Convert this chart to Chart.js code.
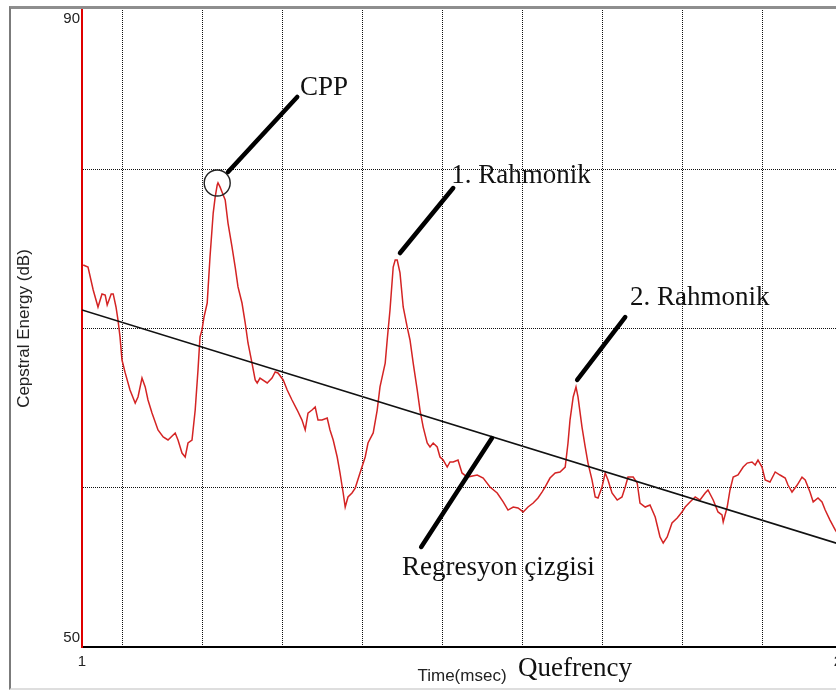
<!DOCTYPE html>
<html>
<head>
<meta charset="utf-8">
<title>Cepstrum</title>
<script src="https://cdn.jsdelivr.net/npm/chart.js@4.4.1/dist/chart.umd.min.js"></script>
<style>
    html, body { margin: 0; padding: 0; background: #fff; overflow: hidden; }
    body { width: 836px; height: 691px; position: relative; }
    .frame {
        position: absolute; left: 9px; top: 6px; width: 900px; height: 679px;
        border-left: 2px solid #7b7b7b; border-top: 3px solid #8e8e8e; border-bottom: 2px solid #dedede;
    }
    .chart-box { position: absolute; left: 0; top: -10px; width: 860px; height: 701px; }
</style>
</head>
<body>
<div class="frame"></div>
<div class="chart-box"><canvas id="chart"></canvas></div>
<script>
// quefrency (msec) of each sample of the cepstrum
const quefrency = [
    1.03, 1.15, 1.28, 1.4, 1.5, 1.58, 1.63, 1.73, 1.78, 1.85, 1.9, 1.95, 2.0, 2.08, 2.2, 2.33, 2.4, 2.5, 2.58, 2.65,
    2.75, 2.9, 3.03, 3.15, 3.33, 3.4, 3.5, 3.58, 3.65, 3.75, 3.83, 3.9, 3.95, 4.0, 4.05, 4.13, 4.2, 4.28, 4.33, 4.38,
    4.4, 4.45, 4.5, 4.58, 4.65, 4.75, 4.83, 4.9, 5.0, 5.08, 5.15, 5.25, 5.33, 5.38, 5.45, 5.63, 5.75, 5.83, 5.9,
    6.03, 6.13, 6.25, 6.38, 6.5, 6.58, 6.65, 6.75, 6.83, 6.9, 7.0, 7.13, 7.2, 7.28, 7.38, 7.45, 7.53, 7.58, 7.65, 7.75,
    7.83, 7.95, 8.08, 8.15, 8.28, 8.38, 8.45, 8.58, 8.63, 8.7, 8.78, 8.83, 8.88, 8.95, 9.03, 9.13, 9.2, 9.28, 9.38, 9.45,
    9.53, 9.63, 9.7, 9.78, 9.88, 9.95, 10.03, 10.13, 10.2, 10.28, 10.4, 10.5, 10.63,
    10.88, 11.03, 11.2, 11.38, 11.53, 11.65, 11.78, 11.9, 12.03, 12.15, 12.28, 12.4, 12.5, 12.58, 12.7, 12.83, 12.95, 13.08, 13.15, 13.2,
    13.28, 13.35, 13.4, 13.5, 13.58, 13.65, 13.75, 13.83, 13.9, 14.0, 14.08, 14.15, 14.25, 14.38, 14.5, 14.58, 14.65, 14.78, 14.88, 14.95,
    15.08, 15.2,
    15.33, 15.45, 15.53, 15.63, 15.75, 15.88, 16.0, 16.08, 16.2, 16.33, 16.45, 16.58, 16.65, 16.78, 16.9, 17.0, 17.03, 17.13, 17.2, 17.28,
    17.4, 17.53, 17.63, 17.75, 17.83, 17.9, 18.0, 18.08, 18.2, 18.33, 18.45, 18.58, 18.65, 18.75, 18.88, 19.0, 19.08, 19.2, 19.28, 19.4,
    19.5, 19.58, 19.7, 19.83, 20.0
];

// cepstral energy (dB)
const energy = [
    73.99, 73.86, 72.42, 71.35, 72.17, 72.10, 71.48, 72.17, 72.17, 71.35, 70.53, 69.47, 68.02, 67.21, 66.14, 65.32, 65.70, 66.89, 66.33, 65.51,
    64.69, 63.63, 63.19, 63.00, 63.44, 63.00, 62.18, 61.93, 62.81, 63.00, 64.88, 67.39, 69.47, 69.91, 70.72, 71.60, 74.49, 77.25, 78.26, 79.01,
    79.14, 78.89, 78.57, 78.07, 76.62, 75.12, 73.86, 72.61, 71.60, 70.35, 69.09, 67.83, 66.77, 66.58, 66.89, 66.58, 66.89, 67.27, 67.21,
    66.77, 66.14, 65.51, 64.88, 64.25, 63.63, 64.69, 64.88, 65.07, 64.25, 64.25, 64.38, 63.63, 63.00, 61.93, 60.93, 59.67, 58.79, 59.42, 59.67,
    59.98, 60.93, 61.93, 62.81, 63.44, 64.88, 66.33, 67.83, 69.28, 71.16, 73.86, 74.30, 74.30, 73.49, 71.35, 70.09, 69.28, 67.83, 66.14, 64.88,
    63.81, 62.81, 62.56, 62.81, 62.56, 61.93, 61.74, 61.30, 61.62, 61.62, 61.74, 60.93, 60.67,
    60.80, 60.61, 60.05, 59.67, 59.11, 58.60, 58.79, 58.73, 58.48, 58.79, 59.04, 59.36, 59.73, 60.05, 60.61, 60.93, 60.99, 61.30, 62.81, 64.25,
    65.70, 66.33, 65.70, 63.81, 62.56, 61.55, 60.49, 59.42, 59.36, 60.05, 60.93, 60.49, 59.67, 59.23, 59.42, 60.05, 60.67, 60.67, 60.30, 59.04,
    58.79, 58.92,
    58.16, 56.91, 56.53, 56.91, 57.79, 58.10, 58.48, 58.79, 59.11, 59.42, 59.23, 59.67, 59.86, 59.23, 58.48, 58.29, 57.85, 58.79, 59.86, 60.67,
    60.80, 61.30, 61.55, 61.62, 61.43, 61.74, 61.30, 60.49, 60.36, 60.99, 60.80, 60.61, 60.17, 59.73, 60.17, 60.67, 60.49, 59.73, 59.11, 59.36,
    59.11, 58.60, 57.97, 57.35, 56.72
];

// regression line end points
const regressionX = [1, 20];
const regressionY = [71.16, 56.41];

// grid / tick positions
const xTickValues = [1, 2, 4, 6, 8, 10, 12, 14, 16, 18, 20];
const xTickLabels = [1, 20];
const yTickValues = [50, 60, 70, 80, 90];

// callouts, in data units
const cppCircle = { x: 4.38, y: 79.14 };
const callouts = [
    { text: 'CPP', from: [4.65, 79.83], to: [6.38, 84.54], at: [6.45, 84.66] },
    { text: '1. Rahmonik', from: [8.95, 74.74], to: [10.28, 78.82], at: [10.23, 79.14] },
    { text: '2. Rahmonik', from: [13.38, 66.77], to: [14.58, 70.72], at: [14.7, 71.48] },
    { text: 'Regresyon çizgisi', from: [11.25, 63.12], to: [9.48, 56.28], at: [9.0, 54.52] }
];

const serifFont = '27px "Liberation Serif", "Times New Roman", serif';

const calloutPlugin = {
    id: 'callouts',
    afterDatasetsDraw(chart) {
        const { ctx, chartArea } = chart;
        const x = chart.scales.x;
        const y = chart.scales.y;
        ctx.save();

        ctx.strokeStyle = '#222';
        ctx.lineWidth = 1.4;
        ctx.beginPath();
        ctx.arc(x.getPixelForValue(cppCircle.x), y.getPixelForValue(cppCircle.y), 13, 0, Math.PI * 2);
        ctx.stroke();

        ctx.strokeStyle = '#000';
        ctx.lineWidth = 4.5;
        ctx.lineCap = 'round';
        callouts.forEach(c => {
            ctx.beginPath();
            ctx.moveTo(x.getPixelForValue(c.from[0]), y.getPixelForValue(c.from[1]));
            ctx.lineTo(x.getPixelForValue(c.to[0]), y.getPixelForValue(c.to[1]));
            ctx.stroke();
        });

        ctx.font = serifFont;
        ctx.fillStyle = '#111';
        ctx.textAlign = 'left';
        ctx.textBaseline = 'alphabetic';
        callouts.forEach(c => {
            ctx.fillText(c.text, x.getPixelForValue(c.at[0]), y.getPixelForValue(c.at[1]));
        });
        ctx.fillText('Quefrency', x.getPixelForValue(11.9), chartArea.bottom + 29);
        ctx.restore();
    }
};

const axisFont = { family: '"Liberation Sans", Arial, sans-serif', size: 15, lineHeight: 1.2 };
const titleFont = { family: '"Liberation Sans", Arial, sans-serif', size: 17, lineHeight: 1.2 };

new Chart(document.getElementById('chart'), {
    type: 'line',
    data: {
        datasets: [
            {
                data: regressionX.map((v, i) => ({ x: v, y: regressionY[i] })),
                borderColor: '#111',
                borderWidth: 1.6,
                pointRadius: 0,
                tension: 0,
                order: 0
            },
            {
                data: quefrency.map((v, i) => ({ x: v, y: energy[i] })),
                borderColor: '#d42424',
                borderWidth: 1.5,
                pointRadius: 0,
                tension: 0,
                order: 1
            }
        ]
    },
    options: {
        responsive: true,
        maintainAspectRatio: false,
        animation: false,
        events: [],
        layout: { padding: { left: 10, right: 18, top: 0, bottom: 0 } },
        plugins: { legend: { display: false }, tooltip: { enabled: false } },
        scales: {
            x: {
                type: 'linear',
                min: 1,
                max: 20,
                afterBuildTicks: scale => { scale.ticks = xTickValues.map(value => ({ value })); },
                afterFit: scale => { scale.height = 44; },
                ticks: {
                    autoSkip: false,
                    maxRotation: 0,
                    padding: 6,
                    color: '#222',
                    font: axisFont,
                    callback: value => xTickLabels.includes(value) ? String(value) : ''
                },
                grid: {
                    drawTicks: false,
                    lineWidth: 1,
                    color: ctx => (ctx.tick && ctx.tick.value === 1) ? 'rgba(0,0,0,0)' : '#111'
                },
                border: { color: '#000', width: 2, dash: [1, 1] },
                title: {
                    display: true,
                    text: 'Time(msec)',
                    color: '#222',
                    font: titleFont,
                    padding: { top: 0, bottom: 4 }
                }
            },
            y: {
                min: 50,
                max: 90,
                afterBuildTicks: scale => { scale.ticks = yTickValues.map(value => ({ value })); },
                afterFit: scale => { scale.width = 72; },
                ticks: {
                    autoSkip: false,
                    padding: 2,
                    color: '#222',
                    font: axisFont,
                    callback: value => value === 90 ? ['', '90'] : value === 50 ? ['50', ''] : ''
                },
                grid: {
                    drawTicks: false,
                    lineWidth: 1,
                    color: ctx => (ctx.tick && (ctx.tick.value === 90 || ctx.tick.value === 50)) ? 'rgba(0,0,0,0)' : '#111'
                },
                border: { color: '#e00000', width: 2, dash: [1, 1] },
                title: {
                    display: true,
                    text: 'Cepstral Energy (dB)',
                    color: '#222',
                    font: titleFont,
                    padding: { top: 4, bottom: 0 }
                }
            }
        }
    },
    plugins: [calloutPlugin]
});
</script>
</body>
</html>
